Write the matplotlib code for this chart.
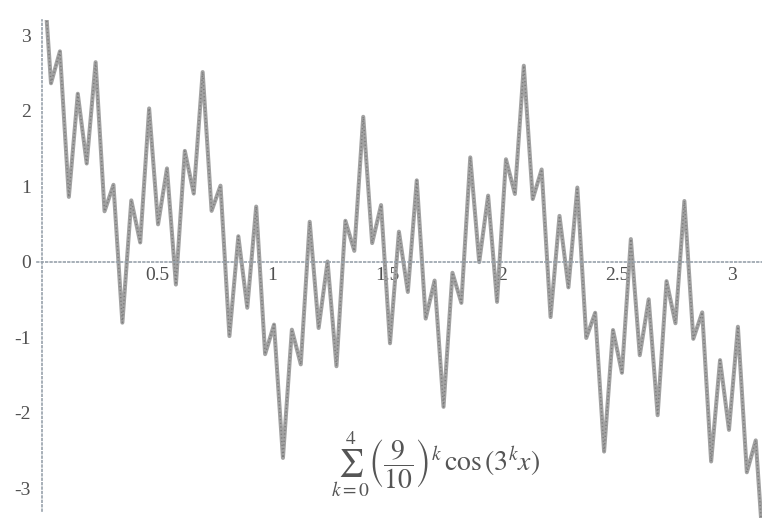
import numpy as np
import matplotlib
matplotlib.use("Agg")
import matplotlib.pyplot as plt

plt.rcParams["font.family"] = ["Liberation Serif", "DejaVu Serif"]
plt.rcParams["mathtext.fontset"] = "stix"
plt.rcParams["axes.unicode_minus"] = False

# curve sampled at its turning points, evenly spaced over [0, pi]
x_vals = np.linspace(0, np.pi, 82)
y_vals = [
    4.095, 2.363, 2.785, 0.859, 2.224, 1.301, 2.642, 0.669, 1.019, -0.805,
    0.813, 0.256, 2.030, 0.496, 1.236, -0.301, 1.468, 0.903, 2.511, 0.674,
    1.008, -0.983, 0.338, -0.608, 0.731, -1.222, -0.831, -2.595, -0.898, -1.357,
    0.530, -0.876, 0.004, -1.382, 0.543, 0.145, 1.919, 0.248, 0.751, -1.078,
    0.399, -0.399, 1.078, -0.751, -0.248, -1.919, -0.145, -0.543, 1.382, -0.004,
    0.876, -0.530, 1.357, 0.898, 2.595, 0.831, 1.222, -0.731, 0.608, -0.338,
    0.983, -1.008, -0.674, -2.511, -0.903, -1.468, 0.301, -1.236, -0.496, -2.030,
    -0.256, -0.813, 0.805, -1.019, -0.669, -2.642, -1.301, -2.224, -0.859, -2.785,
    -2.363, -4.095,
]

x_ticks = [0.5, 1, 1.5, 2, 2.5, 3]
x_tick_labels = ["0.5", "1", "1.5", "2", "2.5", "3"]
y_ticks = [-3, -2, -1, 0, 1, 2, 3]
y_tick_labels = ["-3", "-2", "-1", "0", "1", "2", "3"]

fig = plt.figure(figsize=(7.62, 5.18), dpi=100)
ax = fig.add_axes([0, 0, 1, 498 / 518])
ax.set_xlim(-0.183, 3.13)
ax.set_ylim(-3.39, 3.2)

# grey stroke with a speckled darker trace on top
ax.plot(x_vals, y_vals, color="#a2a2a2", lw=2.9, solid_joinstyle="round")
ax.plot(x_vals, y_vals, color="#5e5e5e", lw=1.1, alpha=0.55,
        linestyle=(0, (0.8, 1.6)), dash_joinstyle="round")

# axes drawn as dotted lines through the origin
for side in ["top", "right"]:
    ax.spines[side].set_visible(False)
for side in ["left", "bottom"]:
    sp = ax.spines[side]
    sp.set_position(("data", 0))
    sp.set_linestyle(":")
    sp.set_color("#98a2ac")
    sp.set_linewidth(1.2)
ax.spines["left"].set_bounds(-3.3, 3.2)
ax.spines["bottom"].set_bounds(-0.02, 3.13)

ax.set_xticks(x_ticks)
ax.set_xticklabels(x_tick_labels)
ax.set_yticks(y_ticks)
ax.set_yticklabels(y_tick_labels)
ax.tick_params(axis="both", length=0, labelsize=14, labelcolor="#505050")
ax.tick_params(axis="x", pad=4)
ax.tick_params(axis="y", pad=8)

fig.text(0.571, 0.104,
         r"$\sum_{k=0}^{4}\left(\dfrac{9}{10}\right)^{k}\,\mathrm{cos}\,(3^{k}x)$",
         ha="center", va="center", fontsize=20, color="#555555")

fig.savefig("out.png", dpi=100)
